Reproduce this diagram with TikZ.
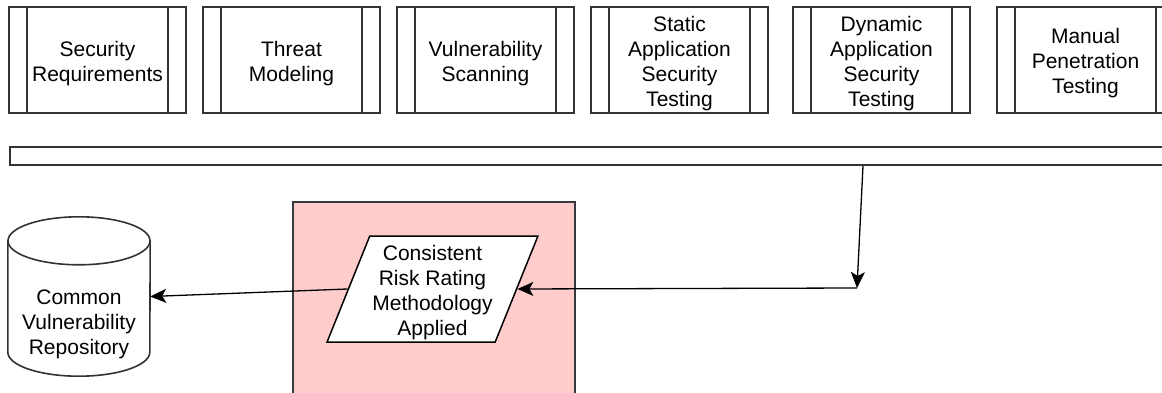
\documentclass[tikz,border=0pt]{standalone}
\usepackage{fontspec}
\setmainfont{Liberation Sans}
\usetikzlibrary{arrows.meta,shapes.geometric}
\definecolor{edgegray}{HTML}{333333}
\definecolor{zonefill}{HTML}{FFCCCC}
\definecolor{zoneedge}{HTML}{36393D}
% taller first line, so that the label block sits a little lower in its shape
\newcommand{\firstline}{\rule{0pt}{22pt}}
\begin{document}
\begin{tikzpicture}[x=1pt,y=-1pt,
  every node/.style={font=\fontsize{21}{25}\selectfont, text=black, align=center, inner sep=0pt},
  procbox/.style={draw=edgegray, line width=1.6pt, fill=white,
    minimum width=177pt, minimum height=106pt,
    path picture={\draw[edgegray, line width=1.6pt]
      ([xshift=18pt]path picture bounding box.north west) -- ([xshift=18pt]path picture bounding box.south west)
      ([xshift=-18pt]path picture bounding box.north east) -- ([xshift=-18pt]path picture bounding box.south east);}},
  shapeline/.style={draw=edgegray, line width=1.6pt},
  conn/.style={draw=black, line width=1.3pt, -{Stealth[length=16pt, width=14pt, inset=4pt]}}]
\path[use as bounding box, clip] (0,0) rectangle (1162,393);

% testing activities
\node[procbox] (req)    at (97.5,60)  {\firstline Security\\Requirements};
\node[procbox] (threat) at (291.5,60) {\firstline Threat\\Modeling};
\node[procbox] (scan)   at (485.5,60) {\firstline Vulnerability\\Scanning};
\node[procbox] (sast)   at (679.5,60) {\firstline Static\\Application\\Security\\Testing};
\node[procbox] (dast)   at (881.5,60) {\firstline Dynamic\\Application\\Security\\Testing};
\node[procbox] (pentest) at (1085.5,60) {\firstline Manual\\Penetration\\Testing};

% collecting bar
\node[shapeline, minimum width=1180pt, minimum height=18pt, anchor=west] (bar) at (9,156) {};
\path (bar.south west) ++(854,0) coordinate (tap);
\coordinate (bend) at (857,288);

% highlighted zone
\node[draw=zoneedge, fill=zonefill, line width=1.6pt, minimum width=282pt, minimum height=230pt, anchor=north west] (zone) at (292,201) {};

% risk rating step
\node[trapezium, trapezium left angle=68, trapezium right angle=112, trapezium stretches=true,
      minimum width=211pt, minimum height=106pt, draw=black, fill=white, line width=1.5pt]
      (risk) at (432.5,289) {\firstline Consistent\\Risk Rating\\Methodology\\Applied};

% repository cylinder
\node[minimum width=142pt, minimum height=159pt] (repo) at (79,296.5) {};
\draw[shapeline, fill=white]
  ([yshift=-24pt]repo.north west) -- ([yshift=24pt]repo.south west)
  arc[start angle=180, end angle=360, x radius=71pt, y radius=24pt]
  -- ([yshift=-24pt]repo.north east);
\draw[shapeline, fill=white] ([yshift=-24pt]repo.north) ellipse[x radius=71pt, y radius=24pt];
\node (repolabel) at ([yshift=-24.2pt]repo.center) {\firstline Common\\Vulnerability\\Repository};

% connectors
\draw[conn] (tap) -- (bend);
\draw[conn] (bend) -- (risk.east);
\draw[conn] (risk.west) -- (repo.east);
\end{tikzpicture}
\end{document}
